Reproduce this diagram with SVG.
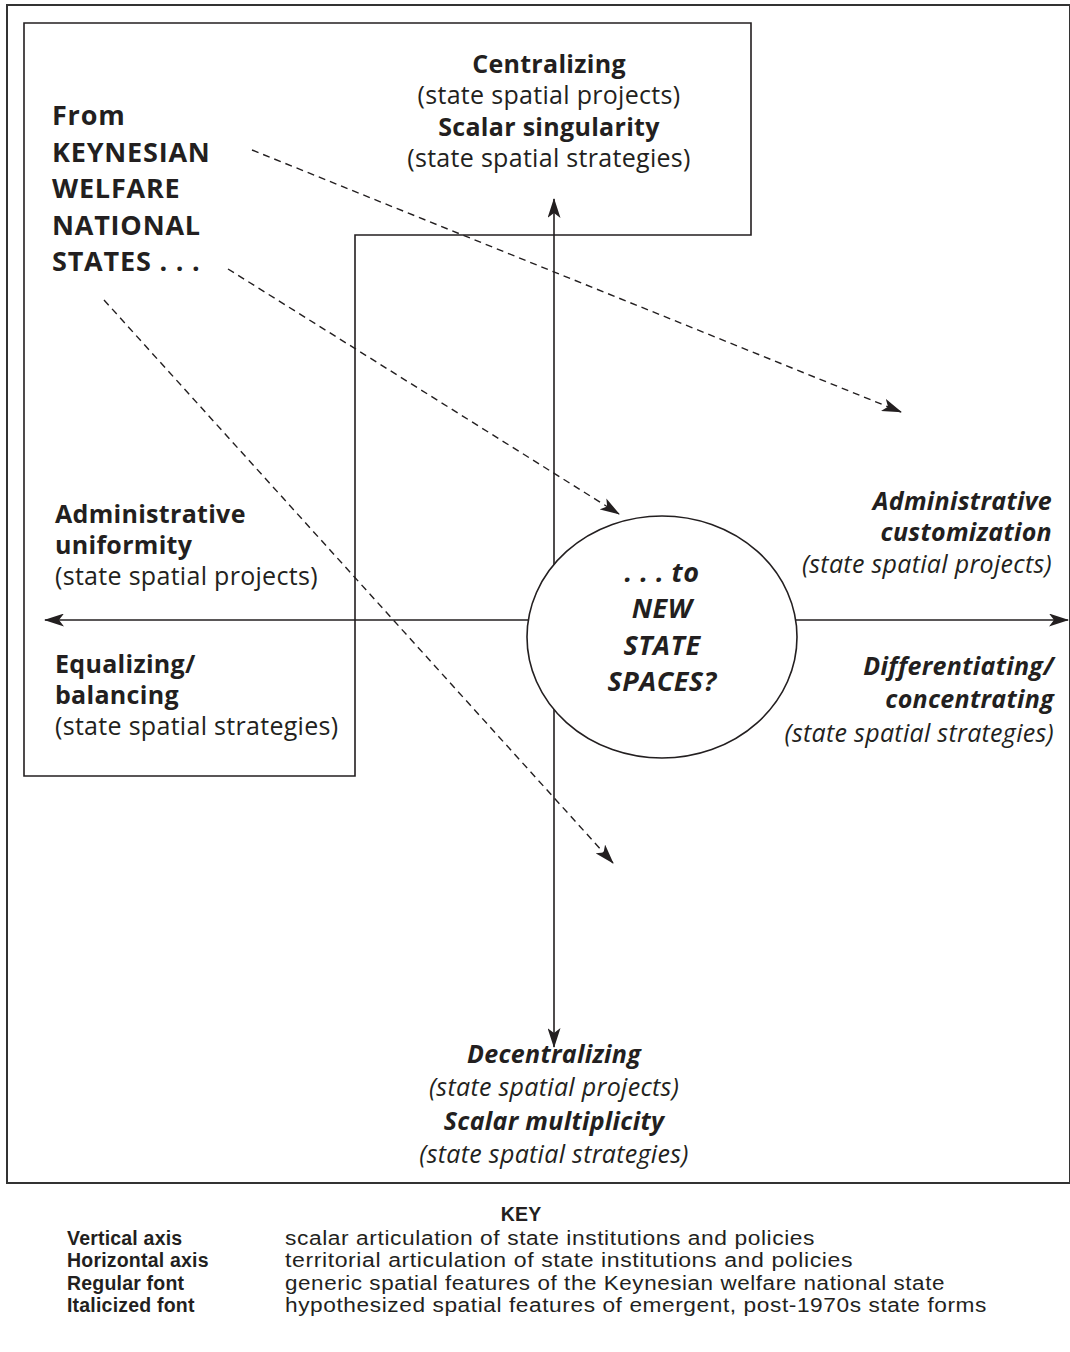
<svg xmlns="http://www.w3.org/2000/svg" width="1070" height="1352" viewBox="0 0 1070 1352">
  <style>
    text { font-family: "Open Sans", "Liberation Sans", sans-serif; fill: #231f20; }
    .lbl { font-size: 25px; letter-spacing: 0.3px; }
    .b { font-weight: bold; }
    .i { font-style: italic; }
    .big { font-size: 27px; font-weight: bold; letter-spacing: 0.8px; }
    .circ { font-size: 27px; font-weight: bold; font-style: italic; letter-spacing: 0.5px; }
    .key { font-family: "Liberation Sans", Arial, sans-serif; font-size: 19.5px; letter-spacing: 0.5px; }
    .kb { font-weight: bold; letter-spacing: 0.2px; }
    .frame { fill: none; stroke: #333; stroke-width: 2; }
    .box { fill: none; stroke: #231f20; stroke-width: 1.6; }
    .axis { fill: none; stroke: #231f20; stroke-width: 1.6; }
    .dash { fill: none; stroke: #231f20; stroke-width: 1.4; stroke-dasharray: 7 5; }
  </style>
  <defs>
    <marker id="head" viewBox="0 0 20 13" refX="19" refY="6.5" markerWidth="20" markerHeight="13" markerUnits="userSpaceOnUse" orient="auto">
      <path d="M0,0 L20,6.5 L0,13 L5,6.5 Z" fill="#231f20"/>
    </marker>
    <marker id="headStart" viewBox="0 0 20 13" refX="1" refY="6.5" markerWidth="20" markerHeight="13" markerUnits="userSpaceOnUse" orient="auto">
      <path d="M20,0 L0,6.5 L20,13 L15,6.5 Z" fill="#231f20"/>
    </marker>
  </defs>

  <!-- outer frame -->
  <rect class="frame" x="7" y="5" width="1063" height="1178"/>

  <!-- L-shaped region of the Keynesian welfare national state -->
  <g id="kwns-region">
    <path class="box" d="M24,23 H751 V235 H355 V776 H24 Z"/>
  </g>

  <!-- axes -->
  <g id="connectors">
    <line class="axis" x1="554" y1="1047" x2="554" y2="199" marker-start="url(#headStart)" marker-end="url(#head)"/>
    <line class="axis" x1="45" y1="620" x2="1068" y2="620" marker-start="url(#headStart)" marker-end="url(#head)"/>
  </g>

  <!-- central node -->
  <g id="new-state-spaces">
    <ellipse cx="662" cy="637" rx="135" ry="121" fill="#fff" stroke="#231f20" stroke-width="1.6"/>
    <text class="circ" text-anchor="middle" x="662" y="582">. . . to</text>
    <text class="circ" text-anchor="middle" x="662" y="618">NEW</text>
    <text class="circ" text-anchor="middle" x="662" y="655">STATE</text>
    <text class="circ" text-anchor="middle" x="662" y="691">SPACES?</text>
  </g>

  <!-- transition arrows -->
  <g id="transitions">
    <line class="dash" x1="252" y1="150" x2="901" y2="412" marker-end="url(#head)"/>
    <line class="dash" x1="228" y1="269" x2="619" y2="514" marker-end="url(#head)"/>
    <line class="dash" x1="104" y1="300" x2="613" y2="863" marker-end="url(#head)"/>
  </g>

  <g id="from-kwns">
    <text class="big" x="52" y="125">From</text>
    <text class="big" x="52" y="162">KEYNESIAN</text>
    <text class="big" x="52" y="198">WELFARE</text>
    <text class="big" x="52" y="235">NATIONAL</text>
    <text class="big" x="52" y="271">STATES . . .</text>
  </g>

  <g id="top-pole">
    <text class="lbl b" text-anchor="middle" x="549" y="73">Centralizing</text>
    <text class="lbl" text-anchor="middle" x="549" y="104">(state spatial projects)</text>
    <text class="lbl b" text-anchor="middle" x="549" y="136">Scalar singularity</text>
    <text class="lbl" text-anchor="middle" x="549" y="167">(state spatial strategies)</text>
  </g>

  <g id="bottom-pole">
    <text class="lbl b i" text-anchor="middle" x="554" y="1063">Decentralizing</text>
    <text class="lbl i" text-anchor="middle" x="554" y="1096">(state spatial projects)</text>
    <text class="lbl b i" text-anchor="middle" x="554" y="1130">Scalar multiplicity</text>
    <text class="lbl i" text-anchor="middle" x="554" y="1163">(state spatial strategies)</text>
  </g>

  <g id="left-upper">
    <text class="lbl b" x="55" y="523">Administrative</text>
    <text class="lbl b" x="55" y="554">uniformity</text>
    <text class="lbl" x="55" y="585">(state spatial projects)</text>
  </g>

  <g id="left-lower">
    <text class="lbl b" x="55" y="673">Equalizing/</text>
    <text class="lbl b" x="55" y="704">balancing</text>
    <text class="lbl" x="55" y="735">(state spatial strategies)</text>
  </g>

  <g id="right-upper">
    <text class="lbl b i" text-anchor="end" x="1052" y="510">Administrative</text>
    <text class="lbl b i" text-anchor="end" x="1052" y="541">customization</text>
    <text class="lbl i" text-anchor="end" x="1052" y="573">(state spatial projects)</text>
  </g>

  <g id="right-lower">
    <text class="lbl b i" text-anchor="end" x="1054" y="675">Differentiating/</text>
    <text class="lbl b i" text-anchor="end" x="1054" y="708">concentrating</text>
    <text class="lbl i" text-anchor="end" x="1054" y="742">(state spatial strategies)</text>
  </g>

  <!-- legend -->
  <g id="key">
    <text class="key kb" text-anchor="middle" x="521" y="1221">KEY</text>
    <text class="key kb" x="67" y="1245">Vertical axis</text>
    <text class="key" x="285" y="1245" textLength="530" lengthAdjust="spacingAndGlyphs">scalar articulation of state institutions and policies</text>
    <text class="key kb" x="67" y="1267">Horizontal axis</text>
    <text class="key" x="285" y="1267" textLength="568" lengthAdjust="spacingAndGlyphs">territorial articulation of state institutions and policies</text>
    <text class="key kb" x="67" y="1290">Regular font</text>
    <text class="key" x="285" y="1290" textLength="660" lengthAdjust="spacingAndGlyphs">generic spatial features of the Keynesian welfare national state</text>
    <text class="key kb" x="67" y="1312">Italicized font</text>
    <text class="key" x="285" y="1312" textLength="702" lengthAdjust="spacingAndGlyphs">hypothesized spatial features of emergent, post-1970s state forms</text>
  </g>
</svg>
